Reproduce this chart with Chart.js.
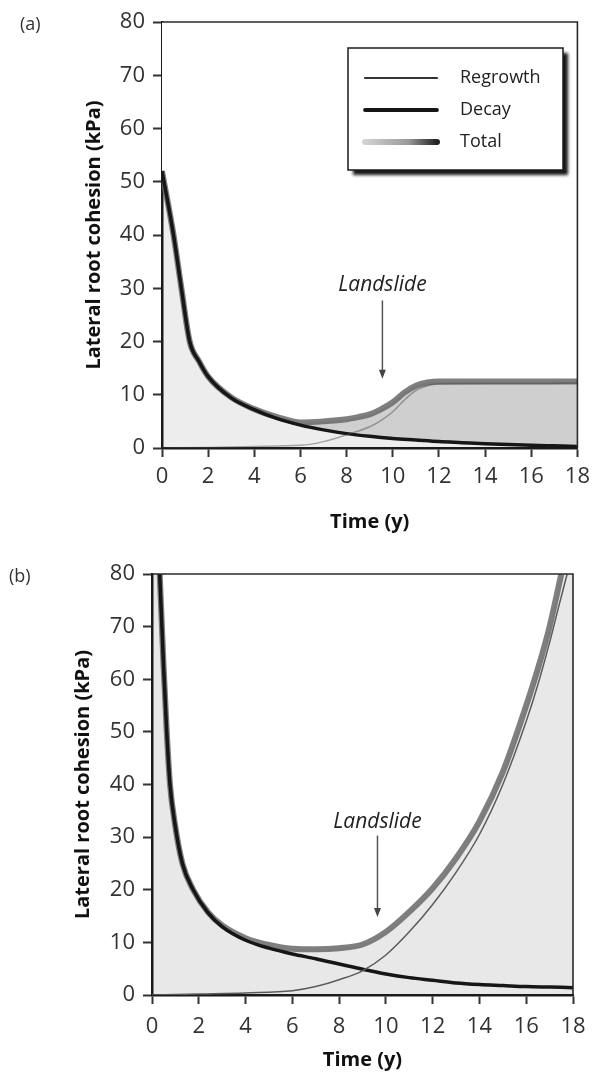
<!DOCTYPE html>
<html lang="en">
<head>
<meta charset="UTF-8">
<title>Lateral root cohesion after a landslide</title>
<script src="https://cdn.jsdelivr.net/npm/chart.js"></script>
<style>
    body { margin: 0; background: #fff; }
    canvas { position: absolute; left: 0; }
</style>
</head>
<body>
<canvas id="chartA" width="597" height="540" style="top:0"></canvas>
<canvas id="chartB" width="597" height="538" style="top:540px"></canvas>
<script>
// ---- data ----
const xTicks = [0, 2, 4, 6, 8, 10, 12, 14, 16, 18];
const yTicks = [0, 10, 20, 30, 40, 50, 60, 70, 80];
const seriesNames = ['Regrowth', 'Decay', 'Total'];

// panel (a)
const regrowthA_t = [0, 2, 4, 6, 7, 8, 9, 9.5, 10, 10.5, 11, 11.5, 12, 14, 16, 18];
const regrowthA   = [0, 0.1, 0.3, 0.5, 1.2, 2.5, 4.0, 5.2, 6.8, 9.0, 10.8, 11.7, 12.0, 12.1, 12.1, 12.2];
const decayA_t = [0, 0.5, 0.84, 1.2, 1.6, 2, 3, 4, 5, 6, 7, 8, 9, 10, 11, 12, 13, 14, 15, 16, 17, 18];
const decayA   = [52, 40, 30, 20, 16.3, 13.4, 9.4, 7.2, 5.5, 4.3, 3.4, 2.7, 2.2, 1.8, 1.5, 1.2, 1.0, 0.8, 0.65, 0.5, 0.4, 0.3];
const totalA_t = [0, 0.5, 0.84, 1.2, 1.6, 2, 3, 4, 5, 6, 7, 8, 8.5, 9, 9.5, 10, 10.5, 11, 11.5, 12, 13, 14, 15, 16, 17, 18];
const totalA   = [52, 40, 30, 20, 16.3, 13.4, 9.5, 7.3, 5.8, 4.8, 5.0, 5.4, 5.8, 6.3, 7.3, 8.6, 10.4, 11.7, 12.3, 12.5, 12.5, 12.5, 12.5, 12.5, 12.5, 12.5];

// panel (b)
const regrowthB_t = [0, 2, 4, 6, 7, 8, 9, 10, 11, 12, 13, 14, 15, 16, 16.5, 17, 17.4, 17.75];
const regrowthB   = [0, 0.2, 0.4, 0.8, 1.6, 2.9, 4.6, 7.6, 12.0, 17.2, 23.3, 30.5, 40, 52, 59, 67, 74, 80];
const decayB_t = [0.33, 0.5, 0.63, 0.77, 0.98, 1.3, 1.76, 2.4, 3, 4, 5, 6, 7, 8, 9, 10, 11, 12, 13, 14, 15, 16, 17, 18];
const decayB   = [80, 62, 50, 40, 32.5, 25, 20, 15.6, 13, 10.4, 8.9, 7.8, 6.9, 5.9, 4.9, 4.0, 3.3, 2.8, 2.3, 2.0, 1.8, 1.6, 1.5, 1.4];
const totalB_t = [0.33, 0.5, 0.63, 0.77, 0.98, 1.3, 1.76, 2.4, 3, 4, 5, 6, 7, 8, 9, 10, 11, 12, 13, 14, 15, 16, 16.5, 17, 17.5];
const totalB   = [80, 62, 50, 40, 32.5, 25, 20, 15.7, 13.2, 10.8, 9.5, 8.8, 8.7, 8.9, 9.6, 12, 15.8, 20.3, 26, 33, 42.4, 55, 62, 70, 80];

Chart.defaults.font.family = "'Open Sans', sans-serif";

function pts(t, v) {
    return t.map((tt, i) => ({ x: tt, y: v[i] }));
}

// total whites out everything above it, the plot background stays grey below
function makeDatasets(reg, dec, tot, regColor, bandColor) {
    return [
        {
            label: seriesNames[0], data: reg,
            borderColor: regColor, borderWidth: 1.5, fill: false
        },
        {
            label: seriesNames[1], data: dec,
            borderColor: '#161616', borderWidth: 3.5,
            fill: bandColor ? { target: 2 } : false, backgroundColor: bandColor || 'transparent'
        },
        {
            label: seriesNames[2], data: tot,
            borderColor: 'rgba(105,105,105,0.85)', borderWidth: 6,
            fill: 'end', backgroundColor: '#fff'
        }
    ];
}

function makeScales(o) {
    return {
        x: {
            type: 'linear', min: 0, max: 18,
            afterBuildTicks: s => { s.ticks = xTicks.map(v => ({ value: v })); },
            border: { color: '#1a1a1a', width: 2.5 },
            grid: { drawOnChartArea: false, tickLength: 9, tickWidth: 2, tickColor: '#333' },
            ticks: { padding: o.xPad, color: '#333', maxRotation: 0, autoSkip: false, font: { size: 22 } },
            title: { display: true, text: 'Time (y)', color: '#111',
                     font: { size: 20, weight: 'bold' }, padding: { top: 0, bottom: o.xTitlePad } },
            afterFit: s => { s.height = o.xHeight; }
        },
        y: {
            type: 'linear', min: 0, max: 80,
            afterBuildTicks: s => { s.ticks = yTicks.map(v => ({ value: v })); },
            border: { color: '#1a1a1a', width: 2.5 },
            grid: { drawOnChartArea: false, tickLength: 9, tickWidth: 2, tickColor: '#333' },
            ticks: { padding: 8, color: '#333', autoSkip: false, font: { size: 22 } },
            title: { display: true, text: 'Lateral root cohesion (kPa)', color: '#111',
                     font: { size: 20, weight: 'bold' }, padding: { top: o.yTitlePad, bottom: 0 } },
            afterFit: s => { s.width = o.yWidth; }
        }
    };
}

// plot shading, frame, panel letter, landslide arrow and (optionally) the legend box
const decor = {
    id: 'decor',
    beforeDraw(chart, args, opts) {
        const { ctx, chartArea: a } = chart;
        ctx.save();
        ctx.fillStyle = opts.shade;
        ctx.fillRect(a.left, a.top, a.right - a.left, a.bottom - a.top);
        ctx.restore();
    },
    afterDraw(chart, args, opts) {
        const { ctx, chartArea: a, scales: { x, y } } = chart;
        ctx.save();
        ctx.strokeStyle = '#2a2a2a';
        ctx.lineWidth = 1.6;
        ctx.beginPath();
        ctx.moveTo(a.left, a.top);
        ctx.lineTo(a.right, a.top);
        ctx.lineTo(a.right, a.bottom);
        ctx.stroke();

        ctx.fillStyle = '#333';
        ctx.font = "18px 'Open Sans'";
        ctx.textAlign = 'left';
        ctx.textBaseline = 'middle';
        ctx.fillText(opts.letter, opts.letterX, opts.letterY);

        // landslide
        const ax = x.getPixelForValue(opts.slide.t);
        ctx.font = "italic 21px 'Open Sans'";
        ctx.textAlign = 'center';
        ctx.textBaseline = 'alphabetic';
        ctx.fillStyle = '#222';
        ctx.fillText('Landslide', ax, y.getPixelForValue(opts.slide.text));
        const y0 = y.getPixelForValue(opts.slide.from);
        const y1 = y.getPixelForValue(opts.slide.to);
        ctx.strokeStyle = '#555';
        ctx.lineWidth = 1.5;
        ctx.beginPath();
        ctx.moveTo(ax, y0);
        ctx.lineTo(ax, y1 - 7);
        ctx.stroke();
        ctx.fillStyle = '#444';
        ctx.beginPath();
        ctx.moveTo(ax, y1);
        ctx.lineTo(ax - 3.5, y1 - 9);
        ctx.lineTo(ax + 3.5, y1 - 9);
        ctx.closePath();
        ctx.fill();

        if (opts.legend) {
            const L = opts.legend;
            ctx.save();
            ctx.shadowColor = 'rgba(0,0,0,0.9)';
            ctx.shadowBlur = 3;
            ctx.shadowOffsetX = 5;
            ctx.shadowOffsetY = 5;
            ctx.fillStyle = '#fff';
            ctx.fillRect(L.x, L.y, L.w, L.h);
            ctx.restore();
            ctx.strokeStyle = '#1a1a1a';
            ctx.lineWidth = 1.5;
            ctx.strokeRect(L.x, L.y, L.w, L.h);

            chart.data.datasets.forEach((ds, i) => {
                const ry = L.y + L.row0 + i * L.rowGap;
                const x0 = L.x + 17, x1 = L.x + 89;
                ctx.lineCap = 'round';
                if (i === 2) {
                    const g = ctx.createLinearGradient(x0, 0, x1, 0);
                    g.addColorStop(0, '#d2d2d2');
                    g.addColorStop(0.6, '#9a9a9a');
                    g.addColorStop(1, '#222');
                    ctx.strokeStyle = g;
                    ctx.lineWidth = 6;
                } else {
                    ctx.strokeStyle = i === 0 ? '#333' : ds.borderColor;
                    ctx.lineWidth = i === 0 ? 2.2 : 3.8;
                }
                ctx.beginPath();
                ctx.moveTo(x0, ry);
                ctx.lineTo(x1, ry);
                ctx.stroke();
                ctx.fillStyle = '#222';
                ctx.font = "18px 'Open Sans'";
                ctx.textAlign = 'left';
                ctx.textBaseline = 'middle';
                ctx.fillText(ds.label, L.x + 112, ry);
            });
        }
        ctx.restore();
    }
};

function baseOptions(o) {
    return {
        responsive: false,
        animation: false,
        events: [],
        layout: { padding: o.padding },
        elements: { point: { radius: 0 }, line: { cubicInterpolationMode: 'monotone' } },
        scales: makeScales(o),
        plugins: {
            legend: { display: false },
            tooltip: { enabled: false },
            filler: { propagate: false, drawTime: 'beforeDatasetsDraw' },
            decor: o.decor
        }
    };
}

new Chart(document.getElementById('chartA'), {
    type: 'line',
    data: { datasets: makeDatasets(pts(regrowthA_t, regrowthA), pts(decayA_t, decayA),
                                   pts(totalA_t, totalA), 'rgba(70,70,70,0.45)', 'rgba(0,0,0,0.13)') },
    options: baseOptions({
        padding: { top: 22, right: 13, left: 0, bottom: 0 },
        yWidth: 162, xHeight: 92, xPad: 7, xTitlePad: 6, yTitlePad: 82,
        decor: {
            shade: 'rgba(0,0,0,0.07)',
            letter: '(a)', letterX: 20, letterY: 25,
            slide: { t: 9.55, text: 29.5, from: 27.7, to: 13 },
            legend: { x: 348, y: 48, w: 215, h: 122, row0: 30, rowGap: 32 }
        }
    }),
    plugins: [decor]
});

new Chart(document.getElementById('chartB'), {
    type: 'line',
    data: { datasets: makeDatasets(pts(regrowthB_t, regrowthB), pts(decayB_t, decayB),
                                   pts(totalB_t, totalB), '#5a5a5a', null) },
    options: baseOptions({
        padding: { top: 34, right: 24, left: 0, bottom: 0 },
        yWidth: 152, xHeight: 83, xPad: 10, xTitlePad: 6, yTitlePad: 71,
        decor: {
            shade: 'rgba(0,0,0,0.09)',
            letter: '(b)', letterX: 9, letterY: 37,
            slide: { t: 9.64, text: 31.8, from: 30.3, to: 14.8 },
            legend: null
        }
    }),
    plugins: [decor]
});
</script>
</body>
</html>
